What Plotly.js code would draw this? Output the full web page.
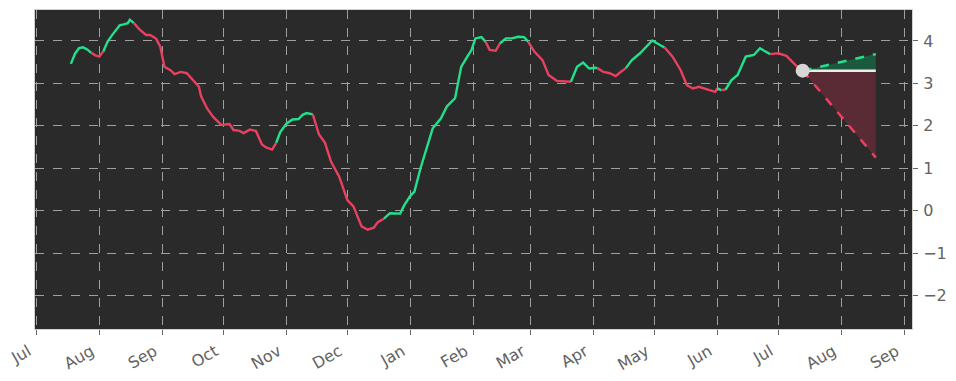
<!DOCTYPE html>
<html>
<head>
<meta charset="utf-8">
<script src="https://cdn.plot.ly/plotly-3.0.1.min.js"></script>
<style>html,body{margin:0;padding:0;background:#fff;}#chart{width:956px;height:381px;}</style>
</head>
<body>
<div id="chart"></div>
<script>
// Historical series (dates, values) and trend flag per segment start (1 = rising/green, 0 = falling/red)
const dates = [
 '2022-07-18','2022-07-20','2022-07-22','2022-07-24','2022-07-26','2022-07-28','2022-07-30','2022-08-01',
 '2022-08-03','2022-08-05','2022-08-07','2022-08-09','2022-08-11','2022-08-13','2022-08-15','2022-08-16',
 '2022-08-18','2022-08-21','2022-08-24','2022-08-26','2022-08-29','2022-08-31','2022-09-02','2022-09-05',
 '2022-09-07','2022-09-10','2022-09-13','2022-09-16','2022-09-19','2022-09-20','2022-09-23','2022-09-26',
 '2022-09-30','2022-10-04','2022-10-06','2022-10-09','2022-10-11','2022-10-14','2022-10-17','2022-10-20',
 '2022-10-22','2022-10-25','2022-10-27','2022-10-29','2022-11-01','2022-11-04','2022-11-07','2022-11-09',
 '2022-11-11','2022-11-14','2022-11-17','2022-11-20','2022-11-23','2022-11-27','2022-12-01','2022-12-04',
 '2022-12-08','2022-12-11','2022-12-14','2022-12-16','2022-12-19','2022-12-22','2022-12-27','2022-12-29',
 '2023-01-01','2023-01-03','2023-01-06','2023-01-08','2023-01-12','2023-01-16','2023-01-19','2023-01-23',
 '2023-01-26','2023-01-29','2023-01-31','2023-02-02','2023-02-05','2023-02-07','2023-02-09','2023-02-12',
 '2023-02-14','2023-02-17','2023-02-20','2023-02-23','2023-02-26','2023-02-28','2023-03-03','2023-03-07',
 '2023-03-10','2023-03-14','2023-03-19','2023-03-21','2023-03-24','2023-03-27','2023-03-30','2023-04-02',
 '2023-04-03','2023-04-06','2023-04-09','2023-04-12','2023-04-14','2023-04-17','2023-04-20','2023-04-24',
 '2023-04-27','2023-04-30','2023-05-04','2023-05-06','2023-05-10','2023-05-14','2023-05-17','2023-05-20',
 '2023-05-23','2023-05-27','2023-05-31','2023-06-01','2023-06-03','2023-06-05','2023-06-08','2023-06-11',
 '2023-06-15','2023-06-19','2023-06-22','2023-06-24','2023-06-27','2023-07-01','2023-07-05','2023-07-08',
 '2023-07-10','2023-07-13'
];
const values = [
 3.46,3.70,3.83,3.85,3.80,3.72,3.66,3.63,
 3.76,3.98,4.12,4.24,4.37,4.39,4.42,4.50,
 4.42,4.26,4.14,4.14,4.05,3.86,3.39,3.31,
 3.22,3.27,3.24,3.08,2.92,2.70,2.41,2.21,
 2.02,2.04,1.90,1.88,1.83,1.91,1.88,1.56,
 1.49,1.44,1.60,1.85,2.05,2.15,2.16,2.26,
 2.30,2.27,1.80,1.60,1.15,0.80,0.25,0.10,
 -0.37,-0.45,-0.40,-0.27,-0.19,-0.06,-0.07,0.13,
 0.35,0.45,1.00,1.31,1.94,2.17,2.46,2.65,
 3.39,3.63,3.78,4.06,4.09,3.98,3.79,3.77,
 3.94,4.06,4.06,4.10,4.09,3.98,3.75,3.55,
 3.20,3.06,3.04,3.04,3.39,3.49,3.35,3.37,
 3.36,3.27,3.24,3.17,3.25,3.36,3.55,3.71,
 3.86,4.01,3.90,3.85,3.63,3.31,2.96,2.88,
 2.92,2.86,2.80,2.88,2.84,2.85,3.08,3.20,
 3.63,3.67,3.83,3.77,3.69,3.71,3.65,3.51,
 3.41,3.30
];
const trend = [
 1,1,1,1,1,0,0,0,
 1,1,1,1,1,1,1,1,
 0,0,0,0,0,0,0,0,
 0,0,0,0,0,0,0,0,
 0,0,0,0,0,0,0,0,
 0,0,1,1,1,1,1,1,
 1,0,0,0,0,0,0,0,
 0,0,0,0,1,1,1,1,
 1,1,1,1,1,1,1,1,
 1,1,1,1,1,0,0,0,
 1,1,1,1,1,0,0,0,
 0,0,0,1,1,1,1,1,
 0,0,0,0,0,1,1,1,
 1,1,1,0,0,0,0,0,
 0,0,0,1,0,1,1,1,
 1,1,1,1,0,0,0,0,
 0,0
];
// Forecast
const fcDates = ['2023-07-13','2023-08-18'];
const fcUpper = [3.30, 3.69];
const fcMid   = [3.30, 3.30];
const fcLower = [3.30, 1.25];

const GREEN = '#22e08c', RED = '#e8405f';
const traces = [];
// forecast fills
traces.push({x: fcDates, y: fcMid, mode:'lines', line:{width:0, color:'rgba(0,0,0,0)'}, hoverinfo:'skip', showlegend:false});
traces.push({x: fcDates, y: fcUpper, mode:'lines', fill:'tonexty', fillcolor:'#1b5a3d', line:{width:0, color:'rgba(0,0,0,0)'}, hoverinfo:'skip', showlegend:false});
traces.push({x: fcDates, y: fcMid, mode:'lines', line:{width:0, color:'rgba(0,0,0,0)'}, hoverinfo:'skip', showlegend:false});
traces.push({x: fcDates, y: fcLower, mode:'lines', fill:'tonexty', fillcolor:'#5a2b34', line:{width:0, color:'rgba(0,0,0,0)'}, hoverinfo:'skip', showlegend:false});

// historical coloured runs
let start = 0;
for (let i = 1; i <= dates.length - 1; i++) {
  const end = (i === dates.length - 1) || trend[i] !== trend[start];
  if (end) {
    traces.push({x: dates.slice(start, i + 1), y: values.slice(start, i + 1), mode:'lines',
      line:{color: trend[start] ? GREEN : RED, width:2.4}, showlegend:false});
    start = i;
  }
}
// forecast lines
traces.push({x: fcDates, y: fcMid, mode:'lines', line:{color:'#ececec', width:2.5}, showlegend:false});
traces.push({x: fcDates, y: fcUpper, mode:'lines', line:{color:GREEN, width:2.5, dash:'dash'}, showlegend:false});
traces.push({x: fcDates, y: fcLower, mode:'lines', line:{color:RED, width:2.5, dash:'dash'}, showlegend:false});
traces.push({x: [fcDates[0]], y: [fcMid[0]], mode:'markers', marker:{color:'#d6d6d6', size:14}, showlegend:false});

const layout = {
  width: 956, height: 381,
  margin: {l:35, r:44, t:10, b:52},
  paper_bgcolor: '#ffffff', plot_bgcolor: '#2a2a2a',
  font: {family: 'DejaVu Sans', size: 16, color: '#636363'},
  showlegend: false,
  xaxis: {
    type: 'date', range: ['2022-06-30 08:00', '2023-09-04 19:00'],
    dtick: 'M1', tick0: '2022-07-01', tickformat: '%b', tickangle: -30,
    ticklabelshift: -8, ticklabelstandoff: 1,
    ticks: 'outside', ticklen: 5, tickcolor: '#666', tickwidth: 1,
    showgrid: true, gridcolor: '#a0a0a0', griddash: 'dash', gridwidth: 1,
    showline: true, linecolor: '#d0d0d0', linewidth: 1, mirror: true,
    zeroline: false, tickfont: {size: 16, color: '#636363'}
  },
  yaxis: {
    side: 'right', range: [-2.79, 4.73], dtick: 1, tick0: 0,
    ticklabelstandoff: 2,
    ticks: 'outside', ticklen: 5, tickcolor: '#666', tickwidth: 1,
    showgrid: true, gridcolor: '#a0a0a0', griddash: 'dash', gridwidth: 1,
    showline: true, linecolor: '#d0d0d0', linewidth: 1, mirror: true,
    zeroline: false, tickfont: {size: 16, color: '#636363'}
  }
};
Plotly.newPlot('chart', traces, layout, {displayModeBar: false, staticPlot: true});
</script>
</body>
</html>
